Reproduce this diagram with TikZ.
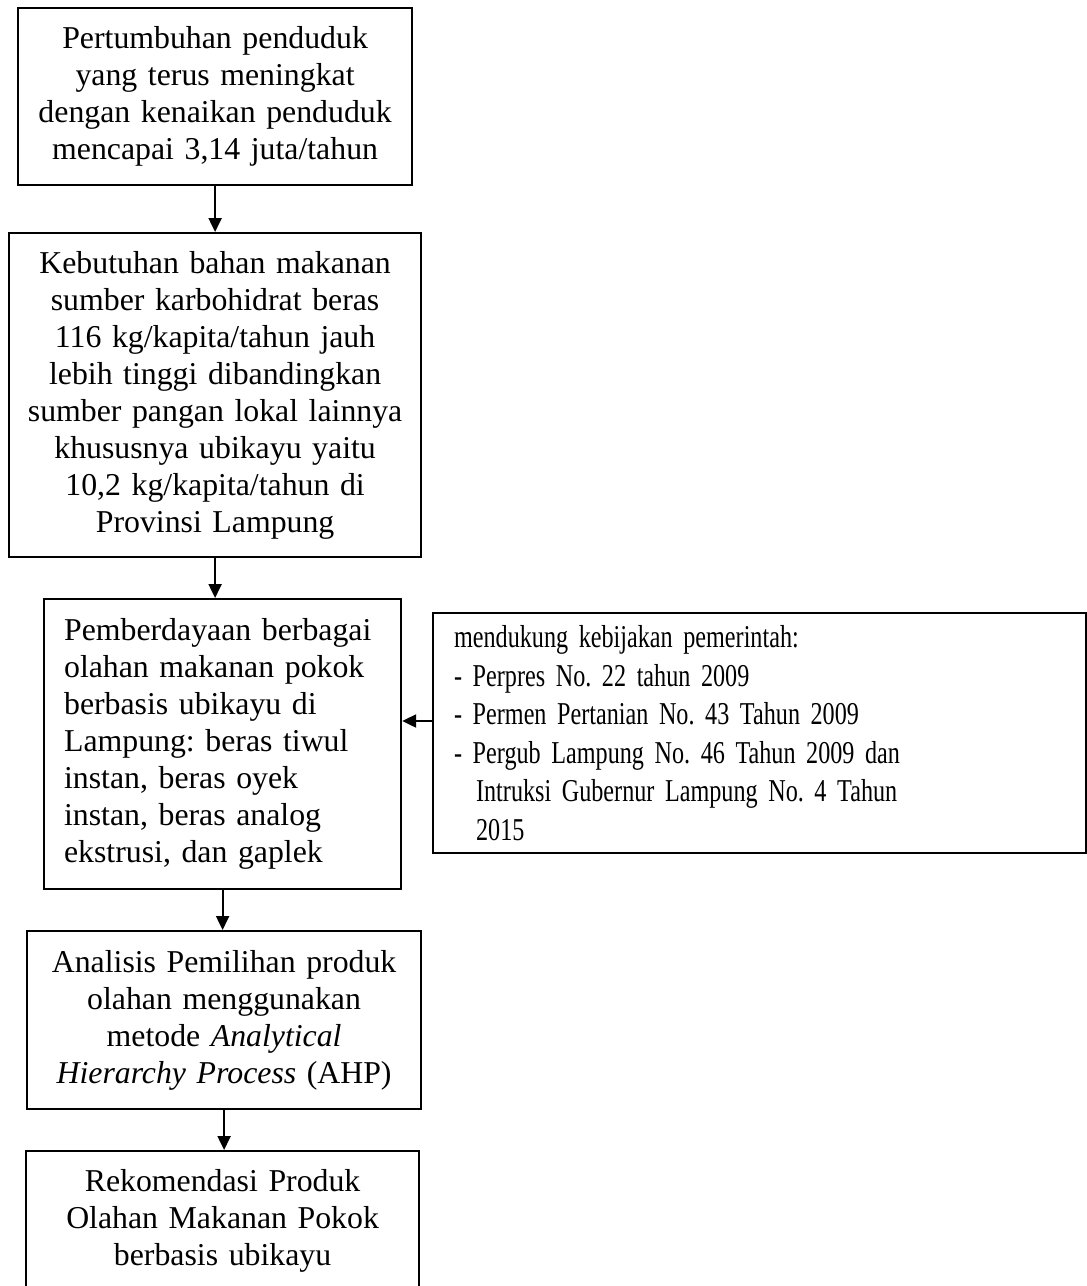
\documentclass[tikz,border=0pt]{standalone}
\usepackage{fontspec}
\setmainfont{Liberation Serif}
\newfontfamily\narrowfont[FakeStretch=0.76]{Liberation Serif}
\usetikzlibrary{arrows.meta}
\frenchspacing
\begin{document}
\begin{tikzpicture}[x=1pt,y=-1pt,
  box/.style={draw, line width=2.2pt, anchor=north west, inner xsep=0pt, inner ysep=0pt,
    align=center, font=\frenchspacing\fontsize{31.8}{37}\selectfont},
  arr/.style={line width=2.2pt, -{Triangle[length=14pt,width=13pt]}}]
\useasboundingbox (0,0) rectangle (1087,1286);
\clip (0,0) rectangle (1087,1286);

\node[box, text width=394pt, minimum width=394pt, minimum height=177pt] (b1) at (17,7)
  {Pertumbuhan penduduk\\ yang terus meningkat\\ dengan kenaikan penduduk\\ mencapai 3,14 juta/tahun};

\node[box, text width=412pt, minimum width=412pt, minimum height=324pt] (b2) at (8,232)
  {Kebutuhan bahan makanan\\ sumber karbohidrat beras\\ 116 kg/kapita/tahun jauh\\ lebih tinggi dibandingkan\\ sumber pangan lokal lainnya\\ khususnya ubikayu yaitu\\ 10,2 kg/kapita/tahun di\\ Provinsi Lampung};

\node[box, align=left, inner xsep=20pt, text width=317pt, minimum width=357pt, minimum height=290pt] (b3) at (43,598)
  {Pemberdayaan berbagai\\ olahan makanan pokok\\ berbasis ubikayu di\\ Lampung: beras tiwul\\ instan, beras oyek\\ instan, beras analog\\ ekstrusi, dan gaplek};

\node[box, align=left, inner xsep=21pt, text width=611pt, minimum width=653pt, minimum height=240pt,
  font=\frenchspacing\narrowfont\fontsize{31.8}{38.5}\selectfont] (r) at (432,612)
  {mendukung kebijakan pemerintah:\\ - Perpres No. 22 tahun 2009\\ - Permen Pertanian No. 43 Tahun 2009\\ - Pergub Lampung No. 46 Tahun 2009 dan\\ \hspace*{22pt}Intruksi Gubernur Lampung No. 4 Tahun\\ \hspace*{22pt}2015};

\node[box, text width=394pt, minimum width=394pt, minimum height=178pt] (b4) at (26,930)
  {Analisis Pemilihan produk\\ olahan menggunakan\\ metode \textit{Analytical}\\ \textit{Hierarchy Process} (AHP)};

\node[box, text width=393pt, minimum width=393pt, minimum height=140pt] (b5) at (25,1150)
  {Rekomendasi Produk\\ Olahan Makanan Pokok\\ berbasis ubikayu};

\coordinate (ha) at (0,721);

\draw[arr] (b1.south) -- (b1.south |- b2.north);
\draw[arr] (b2.south) -- (b2.south |- b3.north);
\draw[arr] (b3.south) -- (b3.south |- b4.north);
\draw[arr] (b4.south) -- (b4.south |- b5.north);
\draw[arr] (r.west |- ha) -- (b3.east |- ha);
\end{tikzpicture}
\end{document}
